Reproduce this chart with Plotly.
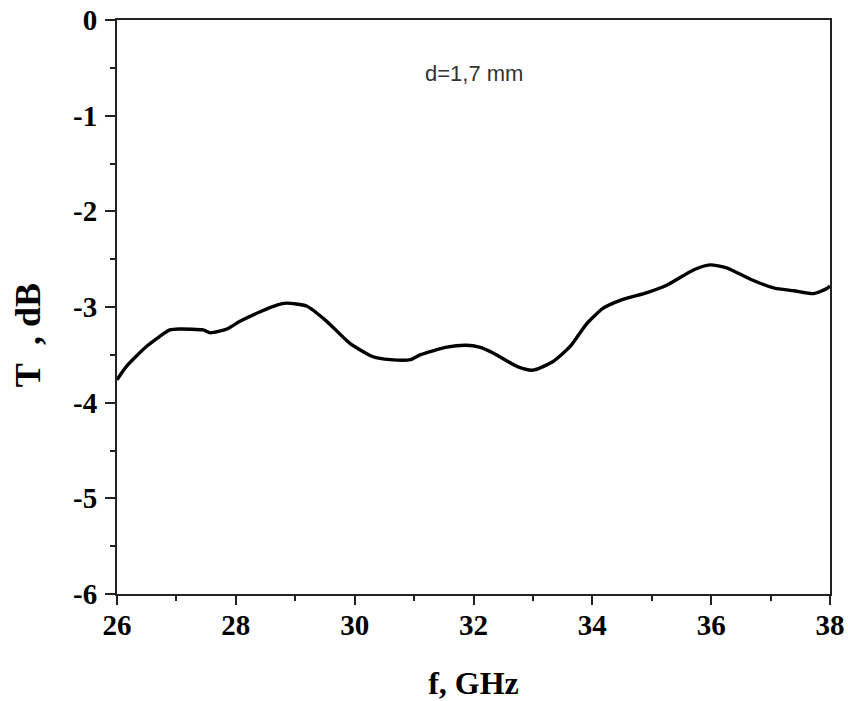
import plotly.graph_objects as go

freq = [26.0, 26.16, 26.5, 26.89, 27.06, 27.45, 27.57, 27.85, 28.07, 28.41, 28.69, 28.85,
        29.19, 29.53, 29.92, 30.31, 30.6, 30.94, 31.1, 31.55, 31.88, 32.1, 32.33, 32.73,
        33.0, 33.34, 33.63, 33.91, 34.19, 34.47, 34.92, 35.26, 35.71, 35.98, 36.26, 36.66,
        37.05, 37.39, 37.72, 37.94, 38.0]
trans = [-3.76, -3.62, -3.41, -3.24, -3.23, -3.24, -3.27, -3.23, -3.15, -3.05, -2.98, -2.96,
         -2.99, -3.15, -3.38, -3.52, -3.55, -3.55, -3.50, -3.42, -3.40, -3.42, -3.48, -3.62,
         -3.66, -3.57, -3.41, -3.17, -3.01, -2.93, -2.85, -2.77, -2.61, -2.56, -2.59, -2.71,
         -2.80, -2.83, -2.86, -2.81, -2.78]

x_ticks = [26, 28, 30, 32, 34, 36, 38]
y_ticks = [0, -1, -2, -3, -4, -5, -6]
y_labels = ["0", "-1", "-2", "-3", "-4", "-5", "-6"]
note = "d=1,7 mm"
x_title = "f, GHz"
y_title = "T\u00a0 , dB"

fig = go.Figure()
fig.add_trace(go.Scatter(x=freq, y=trans, mode="lines",
                         line=dict(color="black", width=3.4, shape="spline", smoothing=0.6),
                         showlegend=False))

tickfont = dict(family="Liberation Serif", size=29, color="black", weight="bold")
fig.update_xaxes(range=[26, 38], tickvals=x_ticks, ticktext=[str(v) for v in x_ticks],
                 ticks="outside", ticklen=9, tickwidth=2, tickcolor="#222",
                 showline=True, linewidth=2, linecolor="#222", mirror=True,
                 showgrid=False, zeroline=False, tickfont=tickfont, ticklabelstandoff=-5,
                 ticklabeloverflow="allow", automargin=False,
                 minor=dict(ticks="outside", ticklen=5, tickwidth=2, tickcolor="#222", dtick=1, tick0=26),
                 title=dict(text="<b>" + x_title + "</b>",
                            font=dict(family="Liberation Serif", size=32, color="black"),
                            standoff=40))
fig.update_yaxes(range=[-6, 0], tickvals=y_ticks, ticktext=y_labels,
                 ticks="outside", ticklen=10, tickwidth=2, tickcolor="#222",
                 showline=True, linewidth=2, linecolor="#222", mirror=True,
                 showgrid=False, zeroline=False, tickfont=tickfont, ticklabelstandoff=2,
                 ticklabeloverflow="allow", automargin=False,
                 minor=dict(ticks="outside", ticklen=5, tickwidth=2, tickcolor="#222", dtick=0.5, tick0=0))

fig.add_annotation(xref="paper", yref="paper", x=0, y=0.451, xshift=-89, xanchor="center",
                   yanchor="middle", text="<b>" + y_title + "</b>", textangle=-90, showarrow=False,
                   font=dict(family="Liberation Serif", size=36, color="black"))

fig.add_annotation(x=32.0, y=-0.56, text=note, showarrow=False,
                   font=dict(family="Liberation Sans", size=22, color="#333"))

fig.update_layout(width=848, height=701, plot_bgcolor="white", paper_bgcolor="white",
                  margin=dict(l=117, r=18, t=20, b=107, autoexpand=False))
fig.write_html("out.html", config={"displayModeBar": False},
               post_script="document.body.style.margin='0';document.body.style.overflow='hidden';")
